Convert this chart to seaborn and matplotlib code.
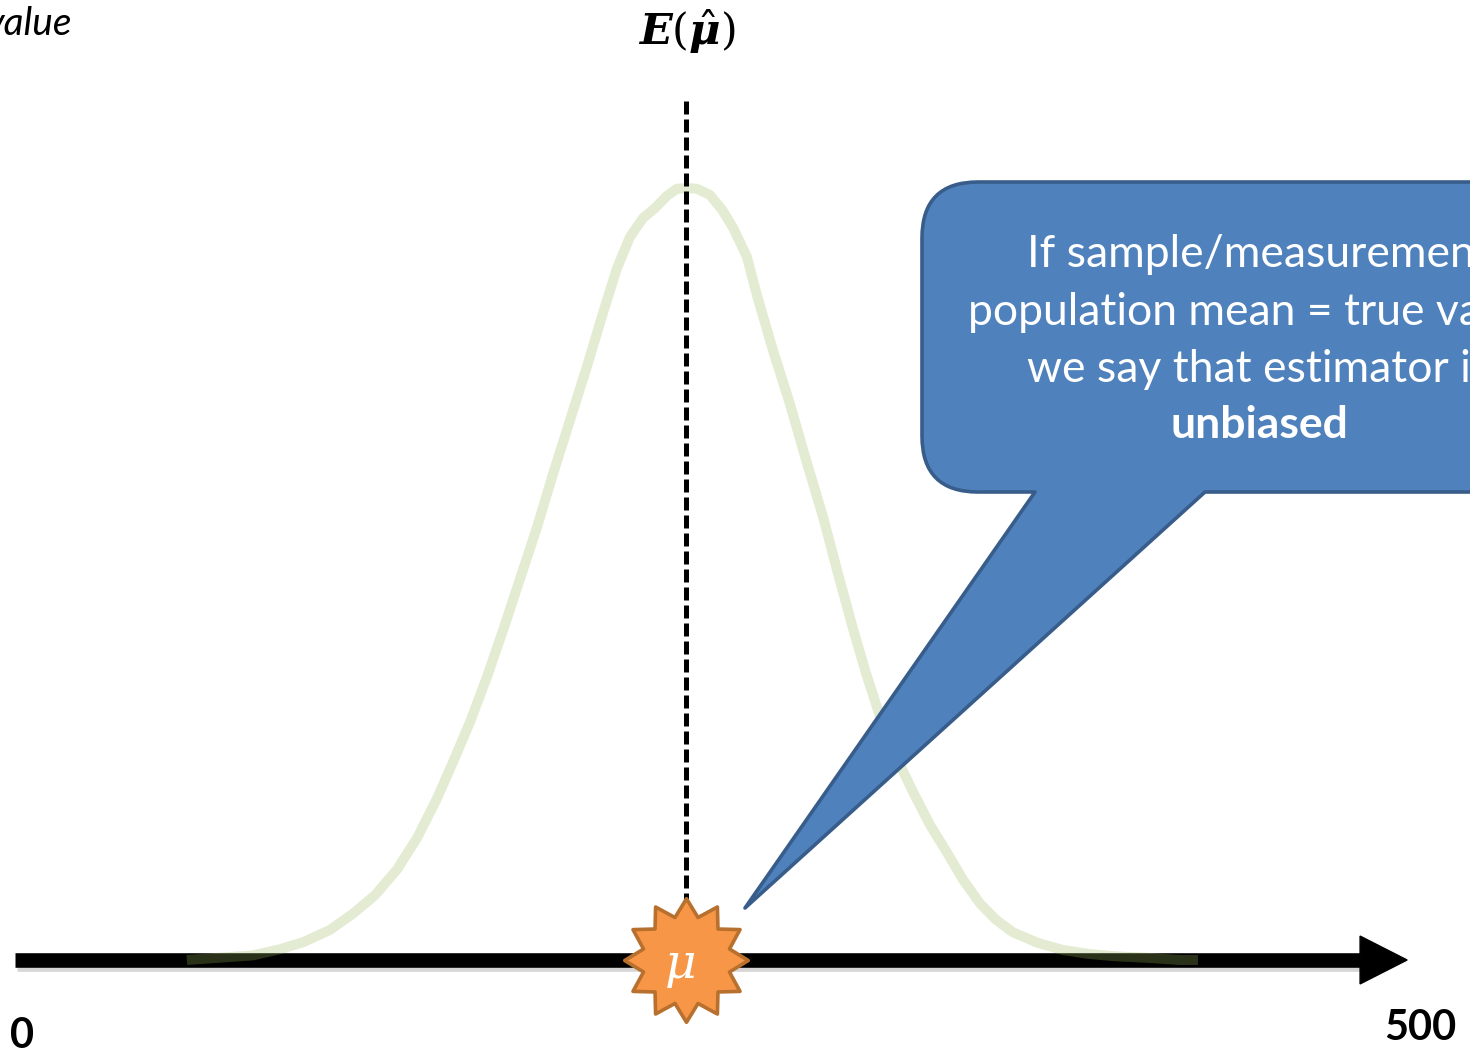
import numpy as np
import pandas as pd
import matplotlib
matplotlib.use("Agg")
import matplotlib.pyplot as plt
import matplotlib.transforms as mtransforms
import matplotlib.patheffects as pe
from matplotlib.path import Path
from matplotlib.patches import PathPatch
import seaborn as sns

# Sampling distribution of the estimator (density scaled so that its peak is 1)
estimate_x = [59.6, 71.4, 83.2, 92.9, 101.1, 110.7, 118.9, 126.8, 134.6, 141.8,
              148.9, 154.6, 160.7, 166.8, 172.5, 178.6, 184.6, 190.4, 196.4,
              202.5, 208.2, 213.2, 217.9, 222.5, 226.8, 231.1, 234.6, 238.2,
              241.8, 246.4, 250.7, 254.6, 259.6, 263.2, 268.9, 275.0, 280.7,
              286.8, 292.1, 297.5, 302.1, 307.1, 312.9, 318.9, 325.0, 331.1,
              336.8, 342.9, 348.6, 354.6, 363.6, 372.5, 381.4, 390.4, 401.8,
              414.3, 420.7]
density = [0.0, 0.003, 0.006, 0.014, 0.023, 0.039, 0.060, 0.084, 0.117, 0.158,
           0.209, 0.256, 0.308, 0.367, 0.427, 0.494, 0.560, 0.630, 0.699,
           0.769, 0.838, 0.896, 0.937, 0.961, 0.974, 0.990, 0.999, 1.0,
           0.999, 0.991, 0.972, 0.949, 0.911, 0.861, 0.790, 0.720, 0.648,
           0.574, 0.501, 0.429, 0.372, 0.316, 0.263, 0.218, 0.175, 0.139,
           0.104, 0.073, 0.052, 0.036, 0.022, 0.013, 0.008, 0.005, 0.003,
           0.0, 0.0]

true_mean = 238          # mu
expected_estimate = 238  # E(mu-hat): equal to mu, the estimator is unbiased
axis_ticks = [0, 500]
axis_tick_labels = ["0", "500"]

callout_lines = ["If sample/measurement", "population mean = true value,",
                 "we say that estimator is", "unbiased"]

sns.set_theme(style="white")
plt.rcParams["font.family"] = ["Lato", "DejaVu Sans"]
plt.rcParams["mathtext.fontset"] = "custom"
plt.rcParams["mathtext.it"] = "DejaVu Serif:italic:bold"
plt.rcParams["mathtext.rm"] = "DejaVu Serif"
plt.rcParams["mathtext.bf"] = "DejaVu Serif:bold"

W, H = 1470, 1051
fig = plt.figure(figsize=(W / 100, H / 100), dpi=100)
ax = fig.add_axes([0, 0, 1, 1])
ax.set_xlim(-20 / 2.8, (W - 20) / 2.8)
ax.set_ylim(-(H - 960) / 772, 960 / 772)
ax.set_axis_off()

# slide-pixel transform for the callout and free text
px = mtransforms.Affine2D().scale(1 / W, -1 / H).translate(0, 1) + fig.transFigure

# horizontal value axis with arrow head
ax.plot([-1.8, 478.6], [0, 0], color="black", lw=10.5, solid_capstyle="butt",
        zorder=2,
        path_effects=[pe.SimpleLineShadow(offset=(1.5, -3), shadow_color="#888888", alpha=0.35),
                      pe.Normal()])
ax.fill([478.6, 495.4, 478.6], [0.031, 0, -0.031], color="black", zorder=2)

# distribution curve
df = pd.DataFrame({"value": estimate_x, "density": density})
sns.lineplot(data=df, x="value", y="density", ax=ax, color="#9BBB59",
             alpha=0.27, lw=7.2, sort=False, zorder=3,
             solid_joinstyle="round", solid_capstyle="butt")

# expected value of the estimator
ax.plot([expected_estimate, expected_estimate], [0, 1.118], color="black",
        lw=3.6, dashes=(2.6, 1.0), dash_capstyle="butt", zorder=4)
ax.text(expected_estimate, 1.202, r"$E(\hat{\mu})$", ha="center", va="center",
        fontsize=31, color="black", zorder=7)

# true value marker: 12-point star
n = 12
ang = np.pi / 2 + np.arange(2 * n) * np.pi / n
rad = np.where(np.arange(2 * n) % 2 == 0, 1.0, 0.72)
verts = np.column_stack([rad * np.cos(ang), rad * np.sin(ang)])
verts = np.vstack([verts, verts[:1]])
codes = [Path.MOVETO] + [Path.LINETO] * (2 * n - 1) + [Path.CLOSEPOLY]
star = Path(verts, codes)
ax.plot([true_mean], [0], marker=star, markersize=89, markerfacecolor="#F79646",
        markeredgecolor="#B8702F", markeredgewidth=2.6, linestyle="none", zorder=6)
ax.text(true_mean - 2, -0.006, "μ", ha="center", va="center", fontsize=35,
        color="white", family="DejaVu Serif", style="italic", zorder=7)

# tick labels at the ends of the axis
ax.text(axis_ticks[0] + 0.7, -0.098, axis_tick_labels[0], ha="center", va="center",
        fontsize=30, fontweight="bold", color="black")
ax.text(axis_ticks[1], -0.088, axis_tick_labels[1], ha="center", va="center",
        fontsize=30, fontweight="bold", color="black")

# label in the top-left corner
fig.text(72, 24, "value", transform=px, ha="right", va="center", fontsize=28,
         style="italic", color="black")

# speech-bubble callout
r = 56
left, top, bottom, right = 922, 182, 492, 1600
cverts = [(left + r, top), (right, top), (right, bottom), (1205, bottom),
          (745, 908), (1035, bottom), (left + r, bottom),
          (left, bottom), (left, bottom - r), (left, top + r),
          (left, top), (left + r, top), (left + r, top)]
ccodes = [Path.MOVETO, Path.LINETO, Path.LINETO, Path.LINETO, Path.LINETO,
          Path.LINETO, Path.LINETO, Path.CURVE3, Path.CURVE3, Path.LINETO,
          Path.CURVE3, Path.CURVE3, Path.CLOSEPOLY]
bubble = PathPatch(Path(cverts, ccodes), facecolor="#4F81BD", edgecolor="#385D8A",
                   lw=2.6, joinstyle="round", transform=px, zorder=8)
fig.add_artist(bubble)

baselines = [267, 325, 382, 438]
for i, (line, yb) in enumerate(zip(callout_lines, baselines)):
    fig.text(1259, yb, line, transform=px, ha="center", va="baseline",
             fontsize=32, color="white",
             fontweight="bold" if i == len(callout_lines) - 1 else "normal",
             zorder=9)

fig.savefig("out.png", dpi=100)
